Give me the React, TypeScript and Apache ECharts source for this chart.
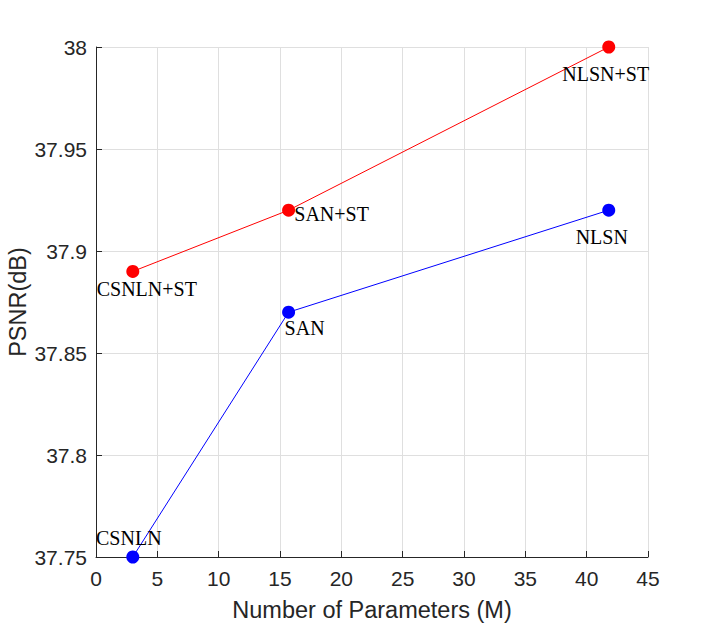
import React, { useEffect, useRef } from "react";
import * as echarts from "echarts";

const paramsM = [3.0, 15.7, 41.8];
const stValues = [37.89, 37.92, 38.0];
const baseValues = [37.75, 37.87, 37.92];
const stNames = ["CSNLN+ST", "SAN+ST", "NLSN+ST"];
const baseNames = ["CSNLN", "SAN", "NLSN"];
const stOffsets = [[14, 18], [43, 4], [-3, 27]];
const baseOffsets = [[-4, -19], [16, 16], [-7, 27]];

export default function App() {
  const ref = useRef<HTMLDivElement>(null);
  useEffect(() => {
    if (!ref.current) return;
    const chart = echarts.init(ref.current, undefined, { renderer: "svg" });
    const labelStyle = {
      show: true,
      position: "inside",
      align: "center",
      verticalAlign: "middle",
      fontFamily: "Liberation Serif",
      fontSize: 20,
      color: "#000",
    };
    const mk = (vals: number[], names: string[], offs: number[][]) =>
      vals.map((v, i) => ({
        value: [paramsM[i], v],
        label: { ...labelStyle, formatter: names[i], offset: offs[i] },
      }));
    chart.setOption({
      animation: false,
      backgroundColor: "#fff",
      grid: { left: 96, right: 69, top: 47, bottom: 69, containLabel: false, outerBoundsMode: "none" },
      xAxis: {
        type: "value",
        min: 0,
        max: 45,
        interval: 5,
        name: "Number of Parameters (M)",
        nameLocation: "middle",
        nameGap: 41,
        nameMoveOverlap: false,
        nameTextStyle: { fontFamily: "Arial, Liberation Sans", fontSize: 23.5, color: "#262626" },
        axisLine: { show: true, onZero: false, lineStyle: { color: "#262626", width: 1 } },
        axisTick: { show: true, inside: true, length: 6, lineStyle: { color: "#262626" } },
        axisLabel: { fontFamily: "Arial, Liberation Sans", fontSize: 21, color: "#262626", margin: 11 },
        splitLine: { show: true, lineStyle: { color: "#dfdfdf", width: 1 } },
      },
      yAxis: {
        type: "value",
        min: 37.75,
        max: 38,
        interval: 0.05,
        name: "PSNR(dB)",
        nameLocation: "middle",
        nameGap: 66,
        nameMoveOverlap: false,
        nameTextStyle: { fontFamily: "Arial, Liberation Sans", fontSize: 23.5, color: "#262626" },
        axisLine: { show: true, onZero: false, lineStyle: { color: "#262626", width: 1 } },
        axisTick: { show: true, inside: true, length: 6, lineStyle: { color: "#262626" } },
        axisLabel: {
          fontFamily: "Arial, Liberation Sans",
          fontSize: 21,
          color: "#262626",
          margin: 9,
          formatter: (v: number) => String(parseFloat(v.toFixed(2))),
        },
        splitLine: { show: true, lineStyle: { color: "#dfdfdf", width: 1 } },
      },
      series: [
        {
          type: "line",
          data: mk(stValues, stNames, stOffsets),
          symbol: "circle",
          symbolSize: 13,
          lineStyle: { color: "#ff0000", width: 1 },
          itemStyle: { color: "#ff0000" },
          z: 3,
        },
        {
          type: "line",
          data: mk(baseValues, baseNames, baseOffsets),
          symbol: "circle",
          symbolSize: 13,
          lineStyle: { color: "#0000ff", width: 1 },
          itemStyle: { color: "#0000ff" },
          z: 3,
        },
      ],
    });
    return () => chart.dispose();
  }, []);
  return <div ref={ref} style={{ width: 717, height: 626, position: "absolute", left: 0, top: 0 }} />;
}
